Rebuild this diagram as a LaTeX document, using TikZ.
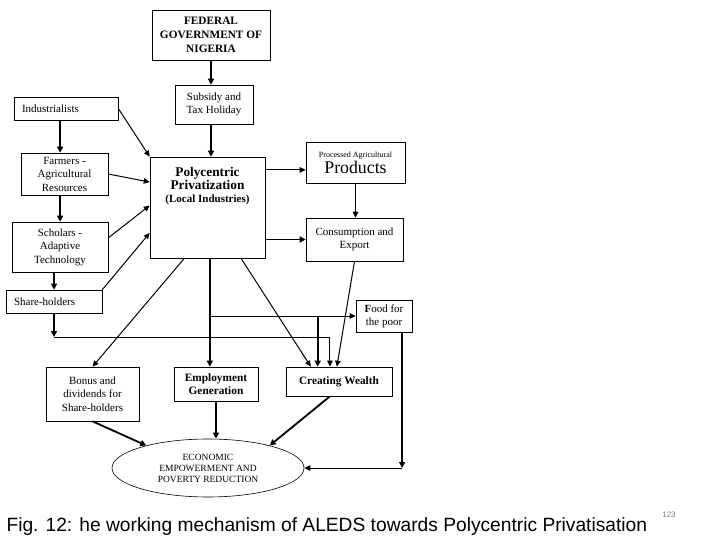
\documentclass[tikz,border=0pt]{standalone}
\usepackage{fontspec}
\setmainfont{Liberation Serif}
\newfontfamily\capfont{Liberation Sans}
\usepackage{tikz}
\usetikzlibrary{calc,positioning,shapes.geometric,arrows.meta}
\tikzset{
  box/.style={
    draw,
    rectangle,
    inner sep=0pt,
    align=center,
    line width=0.6pt,
    font=\fontsize{11}{13.5}\selectfont,
  },
  dims/.style 2 args={minimum width=#1pt, minimum height=#2pt},
  oval/.style={
    draw,
    ellipse,
    inner sep=0pt,
    minimum width=192pt,
    minimum height=58pt,
    align=center,
    line width=0.6pt,
    font=\fontsize{9.5}{11}\selectfont,
  },
  link/.style={line width=1pt, -{Triangle[length=6pt,width=5.5pt]}},
  heavy/.style={line width=1.8pt, -{Triangle[length=6pt,width=6pt]}},
}

\begin{document}
\begin{tikzpicture}[x=1pt,y=-1pt]
  \useasboundingbox (0,0) rectangle (720,540);
  \node[box,dims={118}{50},font=\bfseries\fontsize{11.3}{14}\selectfont] (fed) at (211,35) {FEDERAL\\GOVERNMENT OF\\NIGERIA};
  \node[box,dims={78}{39}] (subsidy) at (214,104.5) {Subsidy and\\Tax Holiday};
  \node[draw,rectangle,inner sep=0pt,line width=0.6pt,font=\fontsize{11}{13.5}\selectfont,minimum height=23pt] (indust) at (66,108.5) {\makebox[104pt][l]{\hspace{8pt}Industrialists}};
  \node[box,dims={87}{42}] (farmers) at (64.5,174) {Farmers -\\Agricultural\\Resources};
  \node[box,dims={96}{50}] (scholars) at (60,247) {Scholars -\\Adaptive\\Technology};
  \node[draw,rectangle,inner sep=0pt,line width=0.6pt,font=\fontsize{11}{13.5}\selectfont,minimum height=23pt] (share) at (54,301.5) {\makebox[96pt][l]{\hspace{8pt}Share-holders}};
  \node[box,dims={115}{101}] (poly) at (207.5,207.5) {};
  \node[below=7pt of poly.north,anchor=north,align=center,font=\bfseries\fontsize{13.3}{13.5}\selectfont] (polytxt) {Polycentric\\Privatization\\[-1pt]{\fontsize{11}{12}\selectfont(Local Industries)}};
  \node[box,dims={99}{41}] (proc) at (355.5,162.5) {{\fontsize{8}{9}\selectfont Processed Agricultural}\\[1pt]{\fontsize{17.8}{18}\selectfont Products}};
  \node[box,dims={97}{43}] (cons) at (354.5,239.5) {Consumption and\\Export};
  \node[box,dims={56}{32},font=\fontsize{11}{13}\selectfont] (food) at (384,316) {\textbf{F}ood for\\the poor};
  \node[box,dims={93}{54}] (bonus) at (92.5,394) {Bonus and\\dividends for\\Share-holders};
  \node[box,dims={84}{34},font=\bfseries\fontsize{11.3}{13}\selectfont] (employ) at (216,384) {Employment\\Generation};
  \node[box,dims={106}{29},font=\bfseries\fontsize{11.3}{13}\selectfont] (wealth) at (339,381.5) {Creating Wealth};
  \node[oval] (econ) at (208,468) {ECONOMIC\\EMPOWERMENT AND\\POVERTY REDUCTION};
  \node[anchor=west,font=\capfont\fontsize{19.2}{22}\selectfont] (caption) at (3,527) {Fig. 12: he working mechanism of ALEDS towards Polycentric Privatisation};
  \node[font=\capfont\fontsize{8}{9}\selectfont,text=gray] (pagenum) at (669,515) {123};

  \coordinate (fa) at ($(farmers.north west)!0.45!(farmers.north east)$);
  \coordinate (pp) at ($(poly.north east)!0.13!(poly.south east)$);
  \coordinate (pe) at ($(poly.south west)!0.52!(poly.south east)$);
  \coordinate (j1) at (pe |- food.west);
  \coordinate (j2) at ($(wealth.north west)!0.3!(wealth.north east)$);
  \coordinate (j3) at ($(wealth.north west)!0.415!(wealth.north east)$);
  \coordinate (sh) at (share.south |- 0,337);
  \coordinate (fd) at ($(food.south west)!0.82!(food.south east)$);
  \coordinate (fe) at (fd |- econ.east);

  \draw[heavy] (fed.south) -- (fed.south |- subsidy.north);
  \draw[heavy] (fed.south |- subsidy.south) -- (fed.south |- poly.north);
  \draw[link] (indust.east) -- (poly.north west);
  \draw[heavy] (fa |- indust.south) -- (fa);
  \draw[link] (farmers.east) -- ($(poly.north west)!0.25!(poly.south west)$);
  \draw[heavy] (fa |- farmers.south) -- (fa |- scholars.north);
  \draw[link] ($(scholars.north east)!0.32!(scholars.south east)$) -- ($(poly.north west)!0.48!(poly.south west)$);
  \draw[heavy] (share.north |- scholars.south) -- (share.north);
  \draw[link] (share.north east) -- ($(poly.north west)!0.75!(poly.south west)$);
  \draw[link] (pp) -- (pp -| proc.west);
  \draw[heavy] (poly.east |- cons.west) -- (cons.west);
  \draw[link] (proc.south) -- (proc.south |- cons.north);
  \draw[link] ($(poly.south west)!0.3!(poly.south east)$) -- (bonus.north);
  \draw[heavy] (pe) -- (pe |- employ.north);
  \draw[link] ($(poly.south west)!0.79!(poly.south east)$) -- ($(wealth.north west)!0.236!(wealth.north east)$);
  \draw[link] (j1) -- (food.west);
  \draw[heavy] (j2 |- j1) -- (j2);
  \draw[heavy] (share.south) -- (sh);
  \draw[link] (sh) -| (j3);
  \draw[link] ($(cons.south west)!0.5!(cons.south east)$) -- ($(wealth.north west)!0.48!(wealth.north east)$);
  \draw[heavy] (bonus.south) -- (econ.160);
  \draw[heavy] (employ.south) -- (employ.south |- econ.north);
  \draw[heavy] ($(wealth.south west)!0.415!(wealth.south east)$) -- (econ.20);
  \draw[heavy] (fd) -- (fe);
  \draw[link] (fe) -- (econ.east);
\end{tikzpicture}
\end{document}
